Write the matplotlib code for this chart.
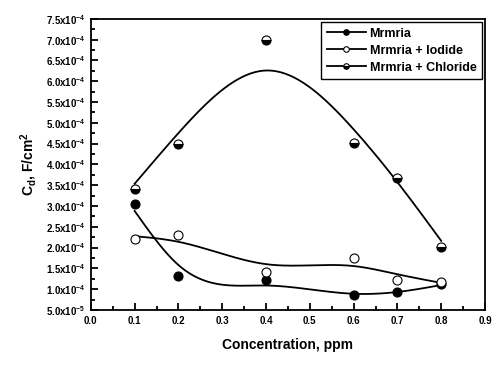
import matplotlib as mpl
import matplotlib.pyplot as plt
import numpy as np

# Data
conc = [0.1, 0.2, 0.4, 0.6, 0.7, 0.8]
cd_mrmria = [3.05e-4, 1.31e-4, 1.22e-4, 0.85e-4, 0.92e-4, 1.12e-4]
cd_iodide = [2.20e-4, 2.30e-4, 1.42e-4, 1.76e-4, 1.23e-4, 1.17e-4]
cd_chloride = [3.42e-4, 4.48e-4, 7.00e-4, 4.52e-4, 3.68e-4, 2.02e-4]
# smoothing strength of the fitted curve for each series
smooth_mrmria = 1.2e3
smooth_iodide = 2.5e3
smooth_chloride = 7e3

y_ticks = np.arange(0.5e-4, 7.51e-4, 0.5e-4)
x_ticks = np.arange(0.0, 0.91, 0.1)

mpl.rcParams['font.family'] = 'Liberation Sans'
mpl.rcParams['font.weight'] = 'bold'
mpl.rcParams['mathtext.fontset'] = 'custom'
mpl.rcParams['mathtext.rm'] = 'Liberation Sans:bold'
mpl.rcParams['mathtext.it'] = 'Liberation Sans:bold'
mpl.rcParams['mathtext.bf'] = 'Liberation Sans:bold'
mpl.rcParams['mathtext.default'] = 'regular'

fig = plt.figure(figsize=(4.99, 3.69), dpi=100)
ax = fig.add_axes([0.182, 0.160, 0.790, 0.789])

# penalised (Whittaker) smoother on a fine grid
x_fine = np.linspace(0.1, 0.8, 141)

def smooth(x, y, lam):
    x = np.asarray(x)
    y = np.asarray(y) * 1e4
    n = x_fine.size
    idx = [int(np.argmin(abs(x_fine - xi))) for xi in x]
    B = np.zeros((len(x), n))
    B[np.arange(len(x)), idx] = 1.0
    D = np.diff(np.eye(n), 2, axis=0)
    f = np.linalg.solve(B.T @ B + lam * D.T @ D, B.T @ y)
    return f * 1e-4

def draw(x, y, lam, label, **mk):
    ax.plot(x_fine, smooth(x, y, lam), color='k', lw=1.3, zorder=2)
    ax.plot(x, y, linestyle='none', marker='o', markersize=6.5,
            markeredgecolor='k', markeredgewidth=0.8, zorder=3, **mk)
    # legend proxy: line + marker
    ax.plot([], [], color='k', lw=1.3, marker='o', markersize=4,
            markeredgecolor='k', markeredgewidth=0.8, label=label, **mk)

draw(conc, cd_mrmria, smooth_mrmria, 'Mrmria', markerfacecolor='k')
draw(conc, cd_iodide, smooth_iodide, 'Mrmria + Iodide', markerfacecolor='w')
draw(conc, cd_chloride, smooth_chloride, 'Mrmria + Chloride',
     markerfacecolor='k', fillstyle='bottom', markerfacecoloralt='w')

ax.set_xlim(0.0, 0.9)
ax.set_ylim(0.5e-4, 7.5e-4)
ax.set_xticks(x_ticks)
ax.set_xticklabels(['%.1f' % v for v in x_ticks])
ax.xaxis.set_minor_locator(mpl.ticker.MultipleLocator(0.05))
ax.set_yticks(y_ticks)
ylabels = []
for v in y_ticks:
    e = int(np.floor(np.log10(v)))
    ylabels.append(r'%.1fx10$^{%d}$' % (v / 10**e, e))
ax.set_yticklabels(ylabels)
ax.yaxis.set_minor_locator(mpl.ticker.MultipleLocator(0.25e-4))

ax.tick_params(which='major', direction='in', length=5, width=1.3, labelsize=7, pad=4)
ax.tick_params(which='minor', direction='in', length=3, width=1.3)
for s in ax.spines.values():
    s.set_linewidth(1.3)

ax.set_xlabel('Concentration, ppm', fontsize=10, fontweight='bold', labelpad=9)
ax.set_ylabel(r'C$_d$, F/cm$^2$', fontsize=10, fontweight='bold', labelpad=5)

leg = ax.legend(loc='upper right', fontsize=9, frameon=True, fancybox=False,
                handlelength=3.1, borderaxespad=0.25, labelspacing=0.4,
                borderpad=0.45, handletextpad=0.3)
leg.get_frame().set_edgecolor('k')
leg.get_frame().set_linewidth(1.0)
leg.get_frame().set_alpha(1)

plt.savefig('out.png', dpi=100)
